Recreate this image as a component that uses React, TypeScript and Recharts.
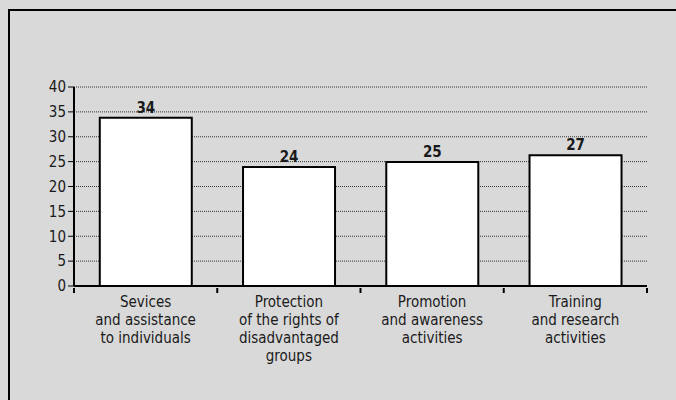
import { BarChart, Bar, XAxis, YAxis, CartesianGrid, LabelList } from "recharts";

// chart data
const categories = [
  "Sevices\nand assistance\nto individuals",
  "Protection\nof the rights of\ndisadvantaged\ngroups",
  "Promotion\nand awareness\nactivities",
  "Training\nand research\nactivities",
];
const values = [33.8, 23.9, 24.9, 26.3];
const valueLabels = ["34", "24", "25", "27"];
const yTicks = [0, 5, 10, 15, 20, 25, 30, 35, 40];

const FONT = "'Liberation Sans Narrow', 'DejaVu Sans Condensed', 'Roboto', sans-serif";

const chartData = categories.map((name, i) => ({
  name,
  value: values[i],
  label: valueLabels[i],
}));

function CategoryTick(props: any) {
  const { x, y, payload, index, visibleTicksCount } = props;
  const half = payload?.offset ?? 71.6;
  const lines = String(payload.value).split("\n");
  const isLast = index === visibleTicksCount - 1;
  return (
    <g>
      <line x1={x - half} y1={y - 6} x2={x - half} y2={y - 1} stroke="#000" strokeWidth={2} />
      {isLast && (
        <line x1={x + half} y1={y - 6} x2={x + half} y2={y - 1} stroke="#000" strokeWidth={2} />
      )}
      <text
        x={x}
        y={y + 13}
        textAnchor="middle"
        fontSize={15}
        fontFamily={FONT}
        fill="#1a1a1a"
      >
        {lines.map((l, i) => (
          <tspan key={i} x={x} dy={i === 0 ? 0 : 18}>
            {l}
          </tspan>
        ))}
      </text>
    </g>
  );
}

export default function App() {
  return (
    <div
      style={{
        position: "absolute",
        left: 0,
        top: 0,
        width: 676,
        height: 400,
        background: "#d9d9d9",
        overflow: "hidden",
      }}
    >
      <div
        style={{
          position: "absolute",
          left: 8,
          top: 9,
          width: 700,
          height: 420,
          border: "2px solid #000",
          boxSizing: "border-box",
        }}
      />
      <div style={{ position: "absolute", left: 0, top: 0 }}>
        <BarChart
          width={676}
          height={400}
          data={chartData}
          margin={{ top: 87, right: 29, left: 44, bottom: 34 }}
          barCategoryGap="18%"
        >
          <CartesianGrid
            vertical={false}
            stroke="#333"
            strokeDasharray="1 1"
          />
          <XAxis
            dataKey="name"
            interval={0}
            height={80}
            tickLine={false}
            axisLine={{ stroke: "#000", strokeWidth: 2 }}
            tick={<CategoryTick />}
          />
          <YAxis
            width={30}
            domain={[0, 40]}
            ticks={yTicks}
            interval={0}
            tickSize={6}
            axisLine={{ stroke: "#000", strokeWidth: 2 }}
            tickLine={{ stroke: "#000", strokeWidth: 1 }}
            tick={{ fontSize: 15, fontFamily: FONT, fill: "#1a1a1a" }}
          />
          <Bar
            dataKey="value"
            fill="#fff"
            stroke="#000"
            strokeWidth={2}
            isAnimationActive={false}
          >
            <LabelList
              dataKey="label"
              position="top"
              offset={5}
              style={{ fontSize: 15, fontFamily: FONT, fontWeight: 600, fill: "#1a1a1a" }}
            />
          </Bar>
        </BarChart>
      </div>
    </div>
  );
}
